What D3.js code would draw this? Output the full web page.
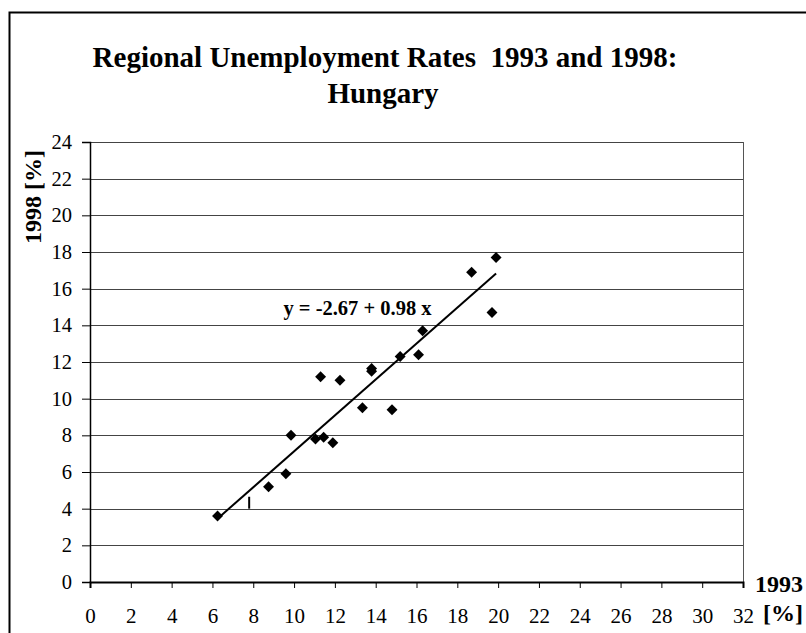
<!DOCTYPE html>
<html>
<head>
<meta charset="utf-8">
<script src="https://cdn.jsdelivr.net/npm/d3@7"></script>
<style>
  body { margin: 0; background: #fff; }
</style>
</head>
<body>
<div id="chart"></div>
<script>
// unemployment rate by region, 1993 (x) vs 1998 (y)
const rate1993 = [6.25, 8.75, 9.6, 9.85, 11.05, 11.45, 11.9, 11.3, 12.25, 13.35, 13.8, 13.8, 14.8, 15.2, 16.1, 16.3, 18.7, 19.9, 19.7];
const rate1998 = [3.6, 5.2, 5.9, 8.0, 7.8, 7.9, 7.6, 11.2, 11.0, 9.5, 11.5, 11.65, 9.4, 12.3, 12.4, 13.7, 16.9, 17.7, 14.7];

const xTicks = d3.range(0, 33, 2);
const yTicks = d3.range(0, 25, 2);

// fitted line y = a + b x
const fitA = -2.67, fitB = 0.98;
const fitRange = [6.25, 19.9];

// stray mark in the original
const strayMark = { x: 7.8, y0: 4.0, y1: 4.65 };

const width = 806, height = 633;
const margin = { top: 142, right: 63, bottom: 51, left: 90 };
const serif = '"Liberation Serif", "DejaVu Serif", serif';

const svg = d3.select('#chart')
    .append('svg')
    .attr('width', width)
    .attr('height', height)
    .attr('font-family', serif);

// outer frame
svg.append('rect')
    .attr('x', 9.5).attr('y', 12.5)
    .attr('width', width + 10).attr('height', height + 10)
    .attr('fill', 'none').attr('stroke', '#000').attr('stroke-width', 2);

const x = d3.scaleLinear().domain([0, 32]).range([margin.left, width - margin.right]);
const y = d3.scaleLinear().domain([0, 24]).range([height - margin.bottom, margin.top]);

// grid lines
svg.append('g')
    .selectAll('line')
    .data(yTicks.filter(d => d > 0))
    .join('line')
    .attr('x1', x(0)).attr('x2', x(32))
    .attr('y1', d => Math.round(y(d)) + 0.5).attr('y2', d => Math.round(y(d)) + 0.5)
    .attr('stroke', '#444').attr('stroke-width', 1);

// right border of plot
svg.append('line')
    .attr('x1', Math.round(x(32)) + 0.5).attr('x2', Math.round(x(32)) + 0.5)
    .attr('y1', y(24)).attr('y2', y(0))
    .attr('stroke', '#555');

// y axis
const yAxis = svg.append('g')
    .attr('transform', `translate(${x(0)},0)`)
    .call(d3.axisLeft(y).tickValues(yTicks).tickSize(8).tickPadding(10));
yAxis.attr('font-family', serif);
yAxis.select('.domain').attr('stroke', '#000').attr('stroke-width', 1.5);
yAxis.selectAll('.tick line').attr('stroke', '#000');
yAxis.selectAll('text').attr('font-size', 20.5).attr('font-family', serif);

// x axis
const xAxis = svg.append('g')
    .attr('transform', `translate(0,${y(0)})`)
    .call(d3.axisBottom(x).tickValues(xTicks).tickSize(6).tickPadding(20));
xAxis.attr('font-family', serif);
xAxis.select('.domain').attr('stroke', '#000').attr('stroke-width', 2);
xAxis.selectAll('.tick line').attr('stroke', '#000');
xAxis.selectAll('text').attr('font-size', 21).attr('font-family', serif);

// title
svg.append('text')
    .attr('x', 385).attr('y', 67)
    .attr('text-anchor', 'middle')
    .attr('font-size', 29).attr('font-weight', 'bold')
    .style('white-space', 'pre')
    .text('Regional Unemployment Rates  1993 and 1998:');
svg.append('text')
    .attr('x', 383).attr('y', 103)
    .attr('text-anchor', 'middle')
    .attr('font-size', 29).attr('font-weight', 'bold')
    .text('Hungary');

// axis titles
svg.append('text')
    .attr('transform', 'translate(41,197) rotate(-90)')
    .attr('text-anchor', 'middle')
    .attr('font-size', 24).attr('font-weight', 'bold')
    .text('1998 [%]');
svg.append('text')
    .attr('x', 803).attr('y', 592)
    .attr('text-anchor', 'end')
    .attr('font-size', 24).attr('font-weight', 'bold')
    .text('1993');
svg.append('text')
    .attr('x', 803).attr('y', 621)
    .attr('text-anchor', 'end')
    .attr('font-size', 24).attr('font-weight', 'bold')
    .text('[%]');

// regression line
svg.append('line')
    .attr('x1', x(fitRange[0])).attr('y1', y(fitA + fitB * fitRange[0]))
    .attr('x2', x(fitRange[1])).attr('y2', y(fitA + fitB * fitRange[1]))
    .attr('stroke', '#000').attr('stroke-width', 2);

svg.append('line')
    .attr('x1', x(strayMark.x)).attr('x2', x(strayMark.x))
    .attr('y1', y(strayMark.y0)).attr('y2', y(strayMark.y1))
    .attr('stroke', '#000').attr('stroke-width', 2);

svg.append('text')
    .attr('x', 357.5).attr('y', 315)
    .attr('text-anchor', 'middle')
    .attr('font-size', 20.5).attr('font-weight', 'bold')
    .text('y = -2.67 + 0.98 x');

// points
const diamond = d3.symbol().type(d3.symbolDiamond2).size(76);
svg.append('g')
    .selectAll('path')
    .data(rate1993.map((d, i) => ({ x: d, y: rate1998[i] })))
    .join('path')
    .attr('d', diamond)
    .attr('transform', d => `translate(${x(d.x)},${y(d.y)})`)
    .attr('fill', '#000');
</script>
</body>
</html>
